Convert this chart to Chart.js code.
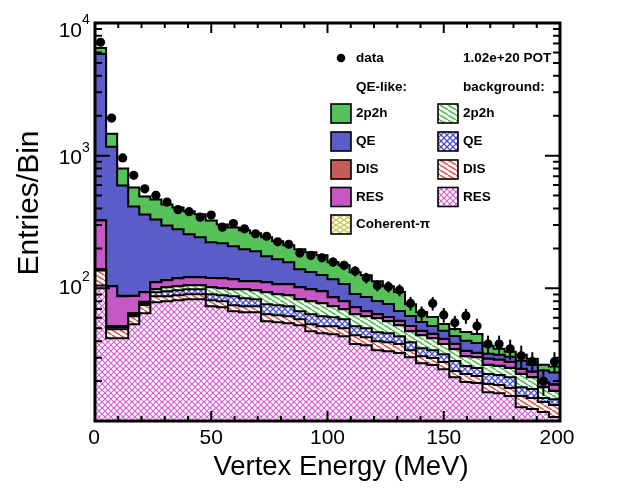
<!DOCTYPE html>
<html>
<head>
<meta charset="utf-8">
<script src="https://cdn.jsdelivr.net/npm/chart.js@4.4.1/dist/chart.umd.min.js"></script>
<style>
html,body{margin:0;padding:0;background:#ffffff;}
canvas{display:block;}
</style>
</head>
<body>
<canvas id="chart" width="624" height="497"></canvas>
<script>
// ---------------- values ----------------
const xRange = [0, 200];
const nBins = 42;

const dataCounts = [7160, 1920, 962, 711, 562, 503, 447, 392, 378, 344, 357, 289, 308, 281, 258, 247, 224, 215, 185, 177, 170, 158, 149, 135, 120, 105, 103, 97, 77, 65, 77, 63, 55, 62, 52, 38, 38, 35, 31, 28, 20, 28];
const dataErrors = [85, 44, 31, 27, 24, 22, 21, 20, 19, 19, 19, 17, 18, 17, 16, 16, 15, 15, 14, 13, 13, 13, 12, 12, 11, 10, 10, 10, 9, 8, 9, 8, 7, 8, 7, 6, 6, 6, 6, 5, 4.5, 5];

// stack, bottom -> top
const bkgRES = [105, 42, 42, 53.6, 64.8, 78.4, 79.8, 81.2, 82.6, 82.6, 73.2, 71.9, 67.1, 66, 66, 56.5, 55.5, 54.6, 52.7, 47.5, 45.9, 45.1, 43.6, 38, 37.3, 34.2, 33.6, 32.5, 30.3, 27.3, 26.4, 24.6, 21.4, 19.7, 19.3, 16.5, 16.2, 15.4, 12.7, 12.3, 11.7, 10.7];
const bkgDIS = [31, 7.1, 7.1, 8, 10.2, 8.7, 7.3, 7.4, 7.5, 7.5, 8, 7.9, 7.3, 7.2, 7.2, 7.2, 7.1, 7, 5.8, 6.1, 5.9, 6.7, 6.5, 6.3, 5.5, 5.8, 5.7, 5.5, 3.9, 3.5, 3.4, 3.2, 2.4, 2.9, 2.5, 2.5, 2.5, 2.3, 2.7, 2.6, 2.2, 2.5];
const bkgQE = [1.5, 1.7, 1.7, 1.6, 2.1, 6.2, 7.8, 8, 8.2, 8.2, 9.1, 8.8, 12.7, 10.9, 9.4, 12, 11.8, 11.6, 8.6, 10.1, 9.8, 8.7, 8.4, 7.5, 7.3, 6.7, 6.6, 5.6, 5.1, 4.6, 4.4, 4.1, 4.5, 3.4, 3.3, 3.6, 3.5, 3.7, 2.6, 2.5, 1, 1.4];
const bkg2p2h = [1, 0.9, 0.9, 1.6, 1.8, 5, 6.9, 6.9, 7.1, 7.1, 11.7, 11.4, 11.2, 14.2, 14, 17.6, 15.7, 15.4, 15.5, 16.1, 15.5, 12.7, 11, 11.9, 11.5, 12.8, 10.6, 9.1, 8.2, 8.9, 7.9, 6.1, 6.5, 4.8, 5.2, 3.8, 3.8, 3.7, 4.6, 4, 3.1, 2.2];
const coherentPi = [0.5, 0.3, 0.3, 0.3, 0.3, 0.3, 0.3, 0.3, 0.3, 0.3, 0.3, 0.3, 0.3, 0.3, 0.3, 0.3, 0.3, 0.2, 0.2, 0.2, 0.2, 0.2, 0.2, 0.2, 0.2, 0.2, 0.2, 0.2, 0.1, 0.1, 0.1, 0.1, 0.1, 0.1, 0.1, 0.1, 0.1, 0.1, 0.1, 0.1, 0.1, 0.1];
const qeLikeRES = [185, 51.7, 35.3, 22.3, 14.4, 12.7, 13.1, 15.4, 15.6, 15.6, 17.1, 18.9, 18.6, 14.6, 16.3, 17.7, 17.1, 18.6, 19.2, 18.5, 17.8, 12.4, 10.3, 8.2, 5.5, 4.2, 4, 3.8, 4.3, 3.2, 3, 3.4, 3.2, 2.8, 2.2, 2.9, 2.8, 2.7, 2, 2, 1.3, 1.9];
const qeLikeDIS = [2, 0.6, 0.5, 0.4, 0.3, 0.3, 0.3, 0.3, 0.3, 0.3, 0.3, 0.3, 0.3, 0.3, 0.3, 0.3, 0.3, 0.3, 0.3, 0.3, 0.3, 0.2, 0.2, 0.2, 0.2, 0.2, 0.2, 0.2, 0.2, 0.2, 0.2, 0.2, 0.1, 0.1, 0.1, 0.1, 0.1, 0.1, 0.1, 0.1, 0.1, 0.1];
const qeLikeQE = [5522, 1064, 508, 326.5, 267, 219, 182.5, 159, 134, 121, 103, 99.4, 90.4, 83.6, 76.9, 63, 58, 49.6, 37.2, 33.7, 30.4, 31.3, 27.4, 18.2, 18.5, 16.1, 15.2, 10.6, 9.8, 8, 6.7, 6.1, 5.6, 6.4, 6.1, 2.6, 2.6, 2.5, 3.7, 3, 4.5, 4.3];
const qeLike2p2h = [640, 296, 203, 161, 131, 137, 130.6, 128.5, 124.7, 118.4, 102, 84.3, 80, 76.7, 69.6, 68, 60.8, 54.1, 57.5, 54.5, 51.8, 39.9, 41.7, 41.9, 39.7, 33.1, 27.8, 26.2, 14.1, 10.5, 8.7, 6.1, 5.6, 6.7, 6.5, 4.8, 3.4, 2.7, 3.1, 2.9, 2.6, 2.5];

const yRange = [10, 10000];
const yTickValues = [100, 1000, 10000];
const yTickBase = ['10', '10', '10'];
const yTickExp = ['2', '3', '4'];
const xTickValues = [0, 50, 100, 150, 200];
const xTickLabels = ['0', '50', '100', '150', '200'];
const xTitle = 'Vertex Energy (MeV)';
const yTitle = 'Entries/Bin';
const legendData = 'data';
const legendPOT = '1.02e+20 POT';
const legendHeadLeft = 'QE-like:';
const legendHeadRight = 'background:';
const legendLeftLabels = ['2p2h', 'QE', 'DIS', 'RES', 'Coherent-\u03c0'];
const legendRightLabels = ['2p2h', 'QE', 'DIS', 'RES'];

// ---------------- styles ----------------
const FONT = "'Liberation Sans', Arial, Helvetica, sans-serif";

function makeHatch(color, dirs, w, h, lw) {
  const c = document.createElement('canvas');
  c.width = w; c.height = h;
  const g = c.getContext('2d');
  g.fillStyle = '#ffffff';
  g.fillRect(0, 0, w, h);
  g.strokeStyle = color;
  g.lineWidth = lw;
  for (const d of dirs) {
    g.beginPath();
    for (let k = -1; k <= 1; k++) {
      const o = k * w;
      if (d === '\\') { g.moveTo(o, 0); g.lineTo(o + w, h); }
      else { g.moveTo(o, h); g.lineTo(o + w, 0); }
    }
    g.stroke();
  }
  return g.createPattern(c, 'repeat');
}

const solidGreen = '#57c15a';
const solidBlue = '#5a5dc8';
const solidRed = '#c65b5b';
const solidMagenta = '#c558c4';
const hatchGreen = makeHatch('#4fc24f', ['\\'], 8, 5, 1.6);
const hatchBlue = makeHatch('#4b50d2', ['\\', '/'], 6, 6, 1.3);
const hatchRed = makeHatch('#e05a55', ['\\'], 8, 5, 1.6);
const hatchPink = makeHatch('#d55ed5', ['\\', '/'], 6, 6, 1.2);
const hatchYellow = makeHatch('#c9c246', ['\\', '/'], 8, 5, 1.2);

const layers = [
  { values: bkgRES, fill: hatchPink },
  { values: bkgDIS, fill: hatchRed },
  { values: bkgQE, fill: hatchBlue },
  { values: bkg2p2h, fill: hatchGreen },
  { values: coherentPi, fill: hatchYellow },
  { values: qeLikeRES, fill: solidMagenta },
  { values: qeLikeDIS, fill: solidRed },
  { values: qeLikeQE, fill: solidBlue },
  { values: qeLike2p2h, fill: solidGreen }
];

const binW = (xRange[1] - xRange[0]) / nBins;
const edges = Array.from({ length: nBins + 1 }, (_, i) => xRange[0] + i * binW);
const centers = Array.from({ length: nBins }, (_, i) => xRange[0] + (i + 0.5) * binW);

let running = new Array(nBins).fill(0);
const stackSets = layers.map((L, idx) => {
  running = running.map((c, i) => c + L.values[i]);
  const cum = running.slice();
  return {
    type: 'line',
    data: edges.map((e, i) => ({ x: e, y: cum[Math.min(i, nBins - 1)] })),
    stepped: 'before',
    borderColor: '#000000',
    borderWidth: 2,
    backgroundColor: L.fill,
    fill: idx === 0 ? 'start' : '-1',
    pointRadius: 0,
    pointHoverRadius: 0,
    order: 1
  };
});

const dataSet = {
  type: 'line',
  data: centers.map((c, i) => ({ x: c, y: dataCounts[i] })),
  showLine: false,
  fill: false,
  pointRadius: 4.6,
  pointBackgroundColor: '#000000',
  pointBorderWidth: 0,
  order: 0
};

const errorBars = {
  id: 'errorBars',
  afterDatasetsDraw(chart) {
    const ctx = chart.ctx, xs = chart.scales.x, ys = chart.scales.y;
    ctx.save();
    ctx.strokeStyle = '#000';
    ctx.lineWidth = 2;
    centers.forEach((c, i) => {
      const v = dataCounts[i], e = dataErrors[i];
      const px = xs.getPixelForValue(c);
      ctx.beginPath();
      ctx.moveTo(px, ys.getPixelForValue(Math.max(v - e, yRange[0])));
      ctx.lineTo(px, ys.getPixelForValue(v + e));
      ctx.stroke();
    });
    ctx.restore();
  }
};

const frameAndText = {
  id: 'frameAndText',
  afterDraw(chart) {
    const ctx = chart.ctx, a = chart.chartArea, xs = chart.scales.x, ys = chart.scales.y;
    ctx.save();
    // ticks
    ctx.strokeStyle = '#000';
    ctx.lineWidth = 2;
    ctx.beginPath();
    for (let v = xRange[0]; v <= xRange[1]; v += 10) {
      const px = xs.getPixelForValue(v);
      const L = (v % 50 === 0) ? 10 : 5;
      ctx.moveTo(px, a.bottom); ctx.lineTo(px, a.bottom - L);
      ctx.moveTo(px, a.top); ctx.lineTo(px, a.top + L);
    }
    for (let d = 1; d <= 3; d++) {
      for (let m = 1; m <= 9; m++) {
        const v = m * Math.pow(10, d);
        const py = ys.getPixelForValue(v);
        const L = (m === 1) ? 15 : 7;
        ctx.moveTo(a.left, py); ctx.lineTo(a.left + L, py);
        ctx.moveTo(a.right, py); ctx.lineTo(a.right - L, py);
      }
    }
    ctx.stroke();
    // frame
    ctx.lineWidth = 3;
    ctx.strokeRect(a.left, a.top, a.right - a.left, a.bottom - a.top);

    // tick labels
    ctx.fillStyle = '#000';
    ctx.textBaseline = 'middle';
    ctx.font = '21px ' + FONT;
    ctx.textAlign = 'center';
    xTickValues.forEach((v, i) => {
      let px = xs.getPixelForValue(v);
      if (i === 0) px -= 1;
      if (i === xTickValues.length - 1) px -= 3;
      ctx.fillText(xTickLabels[i], px, a.bottom + 17);
    });
    const yOff = [0, 3, 8];
    yTickValues.forEach((v, i) => {
      const py = ys.getPixelForValue(v) + yOff[i];
      ctx.font = '21px ' + FONT;
      ctx.textAlign = 'right';
      ctx.fillText(yTickBase[i], 82, py);
      ctx.font = '14px ' + FONT;
      ctx.textAlign = 'left';
      ctx.fillText(yTickExp[i], 82, py - 11);
    });
    // axis titles
    ctx.font = '27.5px ' + FONT;
    ctx.textAlign = 'center';
    ctx.fillText(xTitle, 341, 467);
    ctx.save();
    ctx.translate(30, 203);
    ctx.rotate(-Math.PI / 2);
    ctx.font = '30px ' + FONT;
    ctx.fillText(yTitle, 0, 0);
    ctx.restore();

    // legend
    ctx.font = 'bold 13.5px ' + FONT;
    ctx.textAlign = 'left';
    ctx.beginPath();
    ctx.arc(341, 58, 4.3, 0, Math.PI * 2);
    ctx.fill();
    ctx.fillText(legendData, 356, 58);
    ctx.fillText(legendPOT, 463, 58);
    ctx.fillText(legendHeadLeft, 356, 87);
    ctx.fillText(legendHeadRight, 463, 87);
    const leftFills = [solidGreen, solidBlue, solidRed, solidMagenta, hatchYellow];
    const rightFills = [hatchGreen, hatchBlue, hatchRed, hatchPink];
    const rowY = [113.5, 141.5, 169.5, 197, 224.5];
    ctx.lineWidth = 1.6;
    legendLeftLabels.forEach((t, i) => {
      ctx.fillStyle = leftFills[i];
      ctx.fillRect(331, rowY[i] - 9.5, 20, 19);
      ctx.strokeStyle = '#000';
      ctx.strokeRect(331, rowY[i] - 9.5, 20, 19);
      ctx.fillStyle = '#000';
      ctx.fillText(t, 356, rowY[i]);
    });
    legendRightLabels.forEach((t, i) => {
      ctx.fillStyle = rightFills[i];
      ctx.fillRect(438, rowY[i] - 9.5, 20, 19);
      ctx.strokeStyle = '#000';
      ctx.strokeRect(438, rowY[i] - 9.5, 20, 19);
      ctx.fillStyle = '#000';
      ctx.fillText(t, 463, rowY[i]);
    });
    ctx.restore();
  }
};

new Chart(document.getElementById('chart'), {
  type: 'line',
  data: { datasets: stackSets.concat([dataSet]) },
  options: {
    responsive: false,
    animation: false,
    events: [],
    layout: { padding: { left: 95, right: 64, top: 23, bottom: 76 } },
    plugins: { legend: { display: false }, tooltip: { enabled: false } },
    scales: {
      x: { type: 'linear', min: xRange[0], max: xRange[1], display: false },
      y: { type: 'logarithmic', min: yRange[0], max: yRange[1], display: false }
    }
  },
  plugins: [errorBars, frameAndText]
});
</script>
</body>
</html>
